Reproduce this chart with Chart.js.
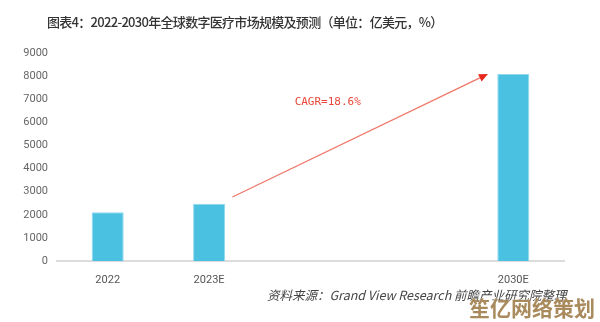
<!DOCTYPE html>
<html>
<head>
<meta charset="utf-8">
<script src="https://cdn.jsdelivr.net/npm/chart.js@4.4.1/dist/chart.umd.min.js"></script>
<style>
  html, body { margin: 0; padding: 0; background: #fff; }
  #wrap { position: relative; width: 600px; height: 322px; overflow: hidden; background: #fff; }
  #c { position: absolute; left: 0; top: 0; }
  .title { position: absolute; left: 47px; top: 12px; font: 500 13px "Noto Sans CJK SC", sans-serif; letter-spacing: -0.7px; color: #333; white-space: nowrap; }
  .source { position: absolute; left: 267px; top: 285px; font: italic 12.5px "Noto Sans CJK SC", sans-serif; color: #444; white-space: nowrap; }
  .mark { position: absolute; left: 469px; top: 292px; font: bold 21px "Noto Sans CJK SC", sans-serif; color: #a98a5c; white-space: nowrap; text-shadow: 0 0 1px #fff; }
</style>
</head>
<body>
<div id="wrap">
  <canvas id="c" width="600" height="322"></canvas>
  <div class="title">图表4：2022-2030年全球数字医疗市场规模及预测（单位：亿美元，%）</div>
  <div class="source">资料来源：Grand View Research 前瞻产业研究院整理</div>
  <div class="mark">笙亿网络策划</div>
</div>
<script>
// Market size, 100 million USD
const categories = ['2022', '2023E', '', '', '2030E'];
const marketSize = [2110, 2480, null, null, 8090];
const yTicks = [0, 1000, 2000, 3000, 4000, 5000, 6000, 7000, 8000, 9000];
const cagrLabel = 'CAGR=18.6%';
// Growth arrow, in axis units (category index, value)
const arrowFrom = [1.23, 2770];
const arrowTo = [3.75, 8090];
const cagrAt = [2.17, 6860];

const growthArrow = {
  id: 'growthArrow',
  afterDatasetsDraw(chart) {
    const { ctx, scales: { x, y } } = chart;
    const x0 = x.getPixelForValue(arrowFrom[0]), y0 = y.getPixelForValue(arrowFrom[1]);
    const x1 = x.getPixelForValue(arrowTo[0]), y1 = y.getPixelForValue(arrowTo[1]);
    const ang = Math.atan2(y1 - y0, x1 - x0);
    const head = 9, half = 4;
    ctx.save();
    ctx.strokeStyle = '#f0786a';
    ctx.lineWidth = 1.3;
    ctx.beginPath();
    ctx.moveTo(x0, y0);
    ctx.lineTo(x1 - Math.cos(ang) * head, y1 - Math.sin(ang) * head);
    ctx.stroke();
    ctx.fillStyle = '#e8281c';
    ctx.beginPath();
    ctx.moveTo(x1, y1);
    const bx = x1 - Math.cos(ang) * head, by = y1 - Math.sin(ang) * head;
    ctx.lineTo(bx + Math.sin(ang) * half, by - Math.cos(ang) * half);
    ctx.lineTo(bx - Math.sin(ang) * half, by + Math.cos(ang) * half);
    ctx.closePath();
    ctx.fill();
    ctx.fillStyle = '#e8473a';
    ctx.font = '11px "DejaVu Sans Mono", monospace';
    ctx.textAlign = 'center';
    ctx.textBaseline = 'middle';
    ctx.fillText(cagrLabel, x.getPixelForValue(cagrAt[0]), y.getPixelForValue(cagrAt[1]));
    ctx.restore();
  }
};

new Chart(document.getElementById('c'), {
  type: 'bar',
  data: {
    labels: categories,
    datasets: [{
      data: marketSize,
      backgroundColor: '#4ac1e0',
      borderColor: '#8fd9ef',
      borderWidth: 1,
      categoryPercentage: 1,
      barPercentage: 0.316
    }]
  },
  options: {
    responsive: false,
    animation: false,
    devicePixelRatio: 1,
    layout: { padding: { top: 53, right: 36, left: 0, bottom: 0 } },
    plugins: { legend: { display: false }, tooltip: { enabled: false }, title: { display: false } },
    scales: {
      x: {
        grid: { display: false },
        border: { color: '#dcdcdc', width: 2 },
        ticks: { color: '#555', font: { family: 'Roboto', size: 11 }, padding: 5, maxRotation: 0, autoSkip: false },
        afterFit(s) { s.height = 61; }
      },
      y: {
        min: 0,
        max: 9000,
        afterBuildTicks(s) { s.ticks = yTicks.map(v => ({ value: v })); },
        grid: { display: false, drawTicks: false },
        border: { display: false },
        ticks: { color: '#666', font: { family: 'Roboto', size: 11 }, padding: 9, callback: v => String(v) },
        afterFit(s) { s.width = 57; }
      }
    }
  },
  plugins: [growthArrow]
});
</script>
</body>
</html>
